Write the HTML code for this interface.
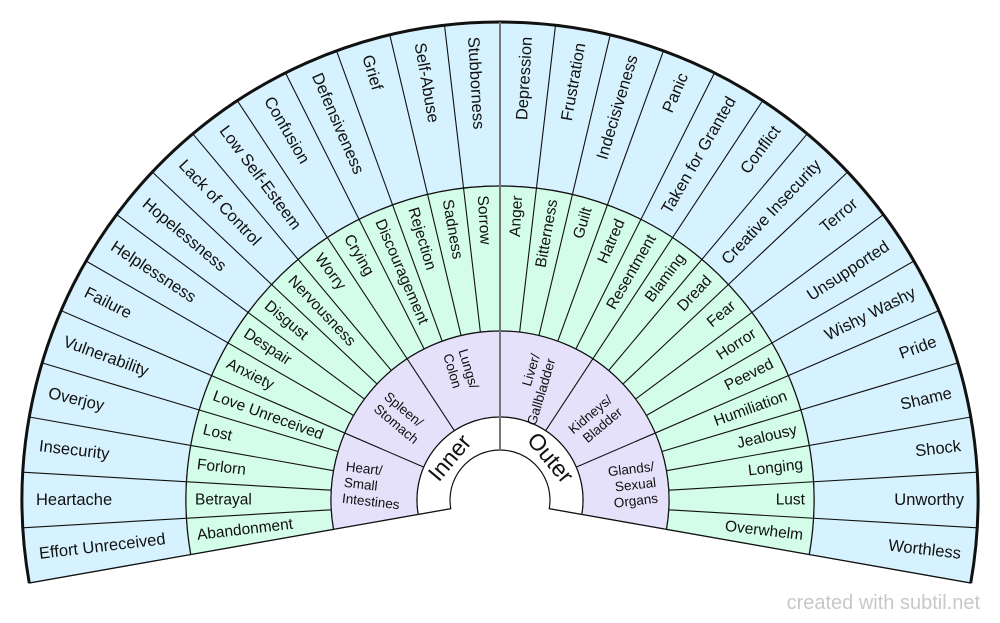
<!DOCTYPE html>
<html><head><meta charset="utf-8"><style>
html,body{margin:0;padding:0;background:#fff;width:1000px;height:623px;overflow:hidden}
svg{display:block}
text{font-family:"Liberation Sans",Arial,sans-serif;fill:#111}
.o{font-size:16.5px}
.g{font-size:15.5px}
.p{font-size:13.5px}
</style></head><body>
<svg width="1000" height="623" viewBox="0 0 1000 623" xmlns="http://www.w3.org/2000/svg">
<g transform="translate(500,500)">
<path d="M -470.74 83 A 478 478 0 1 1 470.74 83 L 309.23 54.53 A 314 314 0 1 0 -309.23 54.53 Z" fill="#d6f2fe" stroke="#111" stroke-width="1.2"/>
<path d="M -309.23 54.53 A 314 314 0 1 1 309.23 54.53 L 166.43 29.35 A 169 169 0 1 0 -166.43 29.35 Z" fill="#d3fce9" stroke="#111" stroke-width="1.2"/>
<path d="M -166.43 29.35 A 169 169 0 1 1 166.43 29.35 L 81.74 14.41 A 83 83 0 1 0 -81.74 14.41 Z" fill="#e6e1fb" stroke="#111" stroke-width="1.2"/>
<path d="M -81.74 14.41 A 83 83 0 1 1 81.74 14.41 L 49.24 8.68 A 50 50 0 1 0 -49.24 8.68 Z" fill="#fff" stroke="#111" stroke-width="1.2"/>
<path d="M -470.74 83 A 478 478 0 1 1 470.74 83" fill="none" stroke="#111" stroke-width="3"/>
<g stroke="#111" stroke-width="1.1">
<line x1="169" x2="478" transform="rotate(-183.333)"/>
<line x1="169" x2="478" transform="rotate(-176.667)"/>
<line x1="169" x2="478" transform="rotate(-170)"/>
<line x1="169" x2="478" transform="rotate(-163.333)"/>
<line x1="169" x2="478" transform="rotate(-156.667)"/>
<line x1="169" x2="478" transform="rotate(-150)"/>
<line x1="169" x2="478" transform="rotate(-143.333)"/>
<line x1="169" x2="478" transform="rotate(-136.667)"/>
<line x1="169" x2="478" transform="rotate(-130)"/>
<line x1="169" x2="478" transform="rotate(-123.333)"/>
<line x1="169" x2="478" transform="rotate(-116.667)"/>
<line x1="169" x2="478" transform="rotate(-110)"/>
<line x1="169" x2="478" transform="rotate(-103.333)"/>
<line x1="169" x2="478" transform="rotate(-96.667)"/>
<line x1="169" x2="478" transform="rotate(-83.333)"/>
<line x1="169" x2="478" transform="rotate(-76.667)"/>
<line x1="169" x2="478" transform="rotate(-70)"/>
<line x1="169" x2="478" transform="rotate(-63.333)"/>
<line x1="169" x2="478" transform="rotate(-56.667)"/>
<line x1="169" x2="478" transform="rotate(-50)"/>
<line x1="169" x2="478" transform="rotate(-43.333)"/>
<line x1="169" x2="478" transform="rotate(-36.667)"/>
<line x1="169" x2="478" transform="rotate(-30)"/>
<line x1="169" x2="478" transform="rotate(-23.333)"/>
<line x1="169" x2="478" transform="rotate(-16.667)"/>
<line x1="169" x2="478" transform="rotate(-10)"/>
<line x1="169" x2="478" transform="rotate(-3.333)"/>
<line x1="169" x2="478" transform="rotate(3.333)"/>
<line x1="83" x2="169" transform="rotate(-156.667)"/>
<line x1="83" x2="169" transform="rotate(-123.333)"/>
<line x1="83" x2="169" transform="rotate(-56.667)"/>
<line x1="83" x2="169" transform="rotate(-23.333)"/>
<line x1="50" x2="478" transform="rotate(-190)"/>
<line x1="50" x2="478" transform="rotate(10)"/>
</g>
<line x1="0" y1="-50" x2="0" y2="-478" stroke="#777" stroke-width="2"/>
<g class="o" dominant-baseline="central">
<text x="-464" transform="rotate(-6.667)">Effort Unreceived</text>
<text x="-464" transform="rotate(0)">Heartache</text>
<text x="-464" transform="rotate(6.667)">Insecurity</text>
<text x="-464" transform="rotate(13.333)">Overjoy</text>
<text x="-464" transform="rotate(20)">Vulnerability</text>
<text x="-464" transform="rotate(26.667)">Failure</text>
<text x="-464" transform="rotate(33.333)">Helplessness</text>
<text x="-464" transform="rotate(40)">Hopelessness</text>
<text x="-464" transform="rotate(46.667)">Lack of Control</text>
<text x="-464" transform="rotate(53.333)">Low Self-Esteem</text>
<text x="-464" transform="rotate(60)">Confusion</text>
<text x="-464" transform="rotate(66.667)">Defensiveness</text>
<text x="-464" transform="rotate(73.333)">Grief</text>
<text x="-464" transform="rotate(80)">Self-Abuse</text>
<text x="-464" transform="rotate(86.667)">Stubborness</text>
</g>
<g class="o" dominant-baseline="central" text-anchor="end">
<text x="464" transform="rotate(-86.667)">Depression</text>
<text x="464" transform="rotate(-80)">Frustration</text>
<text x="464" transform="rotate(-73.333)">Indecisiveness</text>
<text x="464" transform="rotate(-66.667)">Panic</text>
<text x="464" transform="rotate(-60)">Taken for Granted</text>
<text x="464" transform="rotate(-53.333)">Conflict</text>
<text x="464" transform="rotate(-46.667)">Creative Insecurity</text>
<text x="464" transform="rotate(-40)">Terror</text>
<text x="464" transform="rotate(-33.333)">Unsupported</text>
<text x="464" transform="rotate(-26.667)">Wishy Washy</text>
<text x="464" transform="rotate(-20)">Pride</text>
<text x="464" transform="rotate(-13.333)">Shame</text>
<text x="464" transform="rotate(-6.667)">Shock</text>
<text x="464" transform="rotate(0)">Unworthy</text>
<text x="464" transform="rotate(6.667)">Worthless</text>
</g>
<g class="g" dominant-baseline="central">
<text x="-305" transform="rotate(-6.667)">Abandonment</text>
<text x="-305" transform="rotate(0)">Betrayal</text>
<text x="-305" transform="rotate(6.667)">Forlorn</text>
<text x="-305" transform="rotate(13.333)">Lost</text>
<text x="-305" transform="rotate(20)">Love Unreceived</text>
<text x="-305" transform="rotate(26.667)">Anxiety</text>
<text x="-305" transform="rotate(33.333)">Despair</text>
<text x="-305" transform="rotate(40)">Disgust</text>
<text x="-305" transform="rotate(46.667)">Nervousness</text>
<text x="-305" transform="rotate(53.333)">Worry</text>
<text x="-305" transform="rotate(60)">Crying</text>
<text x="-305" transform="rotate(66.667)">Discouragement</text>
<text x="-305" transform="rotate(73.333)">Rejection</text>
<text x="-305" transform="rotate(80)">Sadness</text>
<text x="-305" transform="rotate(86.667)">Sorrow</text>
</g>
<g class="g" dominant-baseline="central" text-anchor="end">
<text x="305" transform="rotate(-86.667)">Anger</text>
<text x="305" transform="rotate(-80)">Bitterness</text>
<text x="305" transform="rotate(-73.333)">Guilt</text>
<text x="305" transform="rotate(-66.667)">Hatred</text>
<text x="305" transform="rotate(-60)">Resentment</text>
<text x="305" transform="rotate(-53.333)">Blaming</text>
<text x="305" transform="rotate(-46.667)">Dread</text>
<text x="305" transform="rotate(-40)">Fear</text>
<text x="305" transform="rotate(-33.333)">Horror</text>
<text x="305" transform="rotate(-26.667)">Peeved</text>
<text x="305" transform="rotate(-20)">Humiliation</text>
<text x="305" transform="rotate(-13.333)">Jealousy</text>
<text x="305" transform="rotate(-6.667)">Longing</text>
<text x="305" transform="rotate(0)">Lust</text>
<text x="305" transform="rotate(6.667)">Overwhelm</text>
</g>
<g class="p">
<text transform="rotate(6.667)"><tspan x="-157" y="-11">Heart/</tspan><tspan x="-157" y="5">Small</tspan><tspan x="-157" y="21">Intestines</tspan></text>
<text transform="rotate(40)"><tspan x="-155" y="-3">Spleen/</tspan><tspan x="-155" y="13">Stomach</tspan></text>
<text transform="rotate(73.333)"><tspan x="-155" y="-3">Lungs/</tspan><tspan x="-155" y="13">Colon</tspan></text>
<text transform="rotate(-73.333)" text-anchor="end"><tspan x="150" y="-3">Liver/</tspan><tspan x="150" y="13">Gallbladder</tspan></text>
<text transform="rotate(-40)" text-anchor="end"><tspan x="150" y="-3">Kidneys/</tspan><tspan x="150" y="13">Bladder</tspan></text>
<text transform="rotate(-6.667)" text-anchor="end"><tspan x="157" y="-11">Glands/</tspan><tspan x="157" y="5">Sexual</tspan><tspan x="157" y="21">Organs</tspan></text>
</g>
<text transform="rotate(-140) translate(66,0) rotate(90)" text-anchor="middle" dominant-baseline="central" style="font-size:23px">Inner</text>
<text transform="rotate(-40) translate(66,0) rotate(90)" text-anchor="middle" dominant-baseline="central" style="font-size:23px">Outer</text>
</g>
<text x="980" y="609" text-anchor="end" style="font-size:20px;fill:#c8c8c8">created with subtil.net</text>
</svg>
</body></html>
